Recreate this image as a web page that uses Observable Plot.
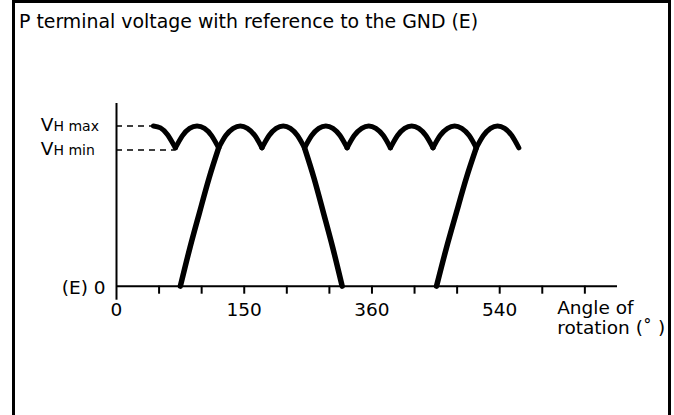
<!DOCTYPE html>
<html><head><meta charset="utf-8">
<script src="https://cdn.jsdelivr.net/npm/d3@7"></script>
<script src="https://cdn.jsdelivr.net/npm/@observablehq/plot@0.6"></script>
<style>
html,body{margin:0;padding:0;background:#fff;width:674px;height:415px;overflow:hidden;}
#wrap{position:relative;width:674px;height:415px;font-family:"DejaVu Sans",sans-serif;color:#000;}
#title{position:absolute;left:19px;top:0;height:40px;padding-top:11px;box-sizing:border-box;font-size:18.9px;line-height:20px;white-space:nowrap;}
#chart{position:absolute;left:0;top:40px;}
#frame{position:absolute;left:12px;top:0;width:653px;height:430px;border:3px solid #000;pointer-events:none;}
#chart svg [aria-label="x-axis tick"] path,#chart svg [aria-label="x-axis"] line{stroke-width:2px;stroke:#000;}
</style>
</head><body>
<div id="wrap"><div id="title"></div><div id="chart"></div><div id="frame"></div></div>
<script>
// ---- data ----
const titleText = "P terminal voltage with reference to the GND (E)";
const xTickValues = [60, 120, 180, 240, 300, 360, 420, 480, 540, 600, 660];
const xLabelAngles = [0, 180, 360, 540];
const xLabelTexts = ["0", "150", "360", "540"];
const xAxisTitle = "Angle of\nrotation (˚ )";
const yLabelValues = [10, 8.5];          // VH max, VH min
const yLabelMain = ["V", "V"];
const yLabelSub = ["H max", "H min"];
const zeroLabel = "(E) 0";
const guideLevels = [10, 8.5];            // dashed guides
const guideEnds = [52, 83];               // angle where each guide meets the curve

// scalloped envelope: arc id, angle (deg), voltage
const envArc = [0,0,0,0, 1,1,1,1,1,1,1, 2,2,2,2,2,2,2, 3,3,3,3,3,3,3, 4,4,4,4,4,4,4, 5,5,5,5,5,5,5, 6,6,6,6,6,6,6, 7,7,7,7,7,7,7, 8,8,8,8,8,8,8];
const envAngle = [52,62,72,83,
  83,93,103,113.5,124,134,144,
  144,154,164.5,174.5,184.5,195,205,
  205,215,225,235,245,255,265,
  265,275,285,295,305,315,325,
  325,335,345.5,355.5,365.5,376,386,
  386,396,406,416,426,436,446,
  446,456,466.5,476.5,486.5,497,507,
  507,517,527,537,547,557,567];
const envVolt = [10,9.88,9.45,8.63,
  8.63,9.4,9.85,10,9.85,9.4,8.63,
  8.63,9.4,9.85,10,9.85,9.4,8.63,
  8.63,9.4,9.85,10,9.85,9.4,8.63,
  8.63,9.4,9.85,10,9.85,9.4,8.63,
  8.63,9.4,9.85,10,9.85,9.4,8.63,
  8.63,9.4,9.85,10,9.85,9.4,8.63,
  8.63,9.4,9.85,10,9.85,9.4,8.63,
  8.63,9.4,9.85,10,9.85,9.4,8.63];

// steep rising / falling phase lines
const slopeSeg = [0,0,0,0,0, 1,1,1,1,1, 2,2,2,2,2];
const slopeAngle = [90,103.5,117,130.5,144, 265,278.25,291.5,304.75,318, 451,465,479,493,507];
const slopeVolt = [0,2.4,4.6,6.75,8.63, 8.63,6.75,4.6,2.4,0, 0,2.4,4.6,6.75,8.63];

// ---- tables built from the arrays ----
const envelope = envArc.map((arc, i) => ({arc, a: envAngle[i], v: envVolt[i]}));
const slopes = slopeSeg.map((seg, i) => ({seg, a: slopeAngle[i], v: slopeVolt[i]}));
const guides = guideLevels.map((v, i) => ({v, to: guideEnds[i]}));
const xRows = xLabelAngles.map((a, i) => ({a, t: xLabelTexts[i]}));
const yRows = yLabelValues.map((v, i) => ({v, main: yLabelMain[i], sub: yLabelSub[i]}));

document.getElementById("title").textContent = titleText;

const FS = 18.5;
const chart = Plot.plot({
  width: 674, height: 375,
  marginLeft: 116, marginRight: 57, marginTop: 63, marginBottom: 129.3,
  x: {domain: [0, 706], ticks: xTickValues, tickSize: 8, tickFormat: () => "", label: null},
  y: {domain: [0, 11.4], axis: null},
  style: {fontFamily: '"DejaVu Sans", sans-serif', fontSize: FS + "px", color: "#000", background: "transparent", overflow: "visible"},
  marks: [
    Plot.ruleY(guides, {y: "v", x1: 0, x2: "to", stroke: "#000", strokeWidth: 1.6, strokeDasharray: "6,5"}),
    Plot.ruleX([0], {stroke: "#000", strokeWidth: 2, insetBottom: -14}),
    Plot.ruleY([0], {stroke: "#000", strokeWidth: 2}),
    Plot.line(slopes, {x: "a", y: "v", z: "seg", curve: "natural", stroke: "#000", strokeWidth: 5.5}),
    Plot.line(envelope, {x: "a", y: "v", z: "arc", curve: "natural", stroke: "#000", strokeWidth: 5, strokeLinecap: "round"}),
    Plot.text(xRows, {x: "a", y: 0, text: "t", lineAnchor: "bottom", dy: 30, fontSize: FS, fill: "#000"}),
    Plot.text(yRows, {x: 0, y: "v", text: "main", textAnchor: "end", dx: -63, lineAnchor: "bottom", dy: 5.5, fontSize: FS, fill: "#000"}),
    Plot.text(yRows, {x: 0, y: "v", text: "sub", textAnchor: "start", dx: -63, lineAnchor: "bottom", dy: 5.5, fontSize: 14, fill: "#000"}),
    Plot.text([zeroLabel], {x: 0, y: 0, text: d => d, textAnchor: "end", dx: -11, lineAnchor: "bottom", dy: 7.5, fontSize: FS, fill: "#000"}),
    Plot.text([xAxisTitle], {frameAnchor: "bottom-right", text: d => d, textAnchor: "start", lineAnchor: "top", dx: -60.3, dy: 14.5, lineHeight: 1.05, fontSize: FS, fill: "#000"})
  ]
});
document.getElementById("chart").appendChild(chart);
</script>
</body></html>
